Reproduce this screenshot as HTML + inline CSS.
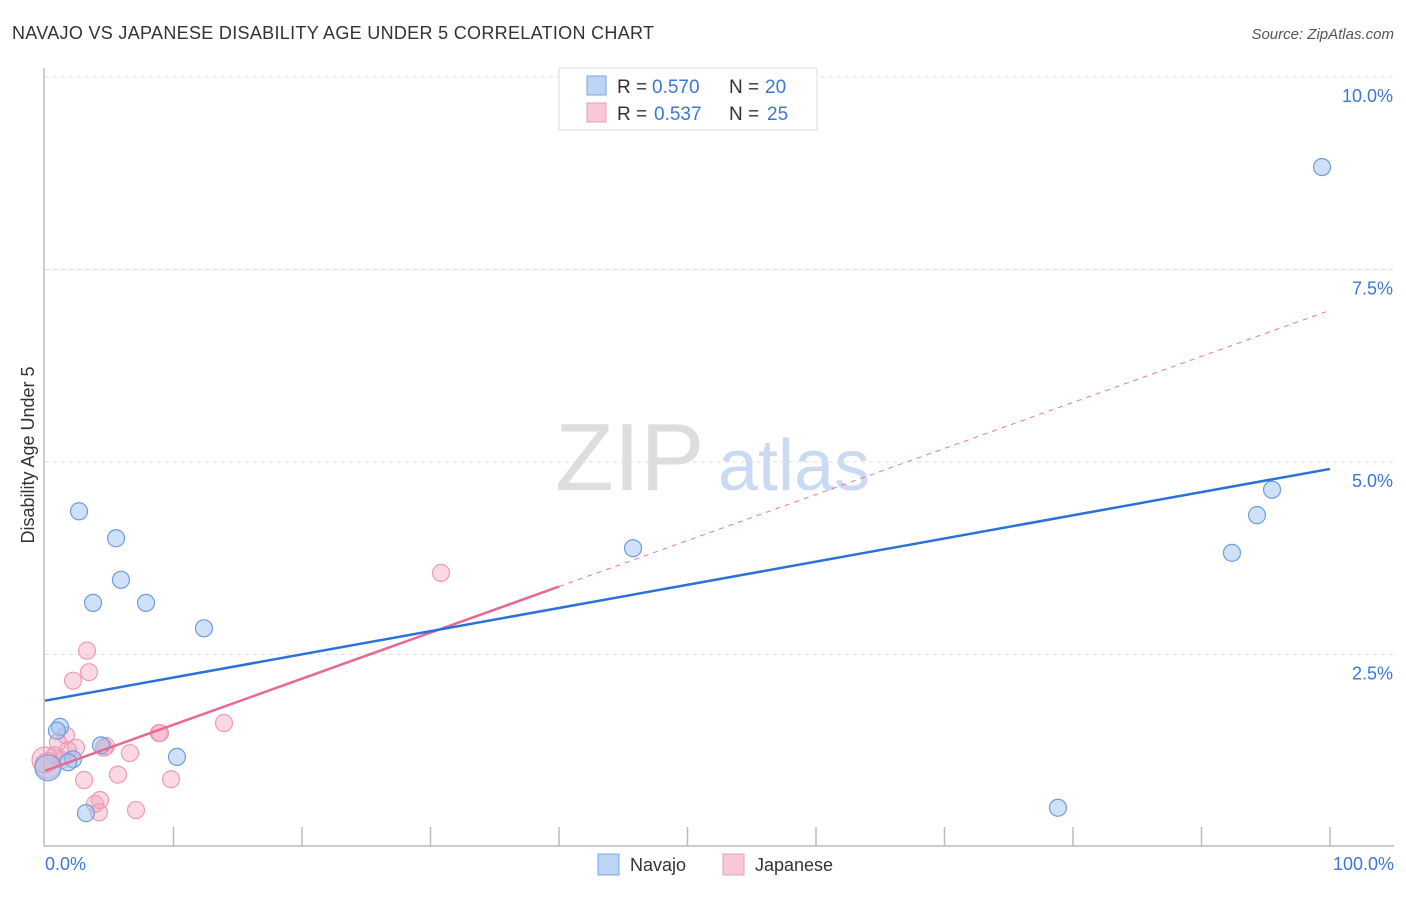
<!DOCTYPE html>
<html><head><meta charset="utf-8"><style>
body{margin:0;background:#fff;font-family:"Liberation Sans",sans-serif}
svg text{font-family:"Liberation Sans",sans-serif}
</style></head><body>
<svg id="c" width="1406" height="892">
<text x="12" y="39" font-size="18" fill="#333" textLength="642">NAVAJO VS JAPANESE DISABILITY AGE UNDER 5 CORRELATION CHART</text>
<text x="1394" y="39" font-size="15" fill="#555" font-style="italic" text-anchor="end">Source: ZipAtlas.com</text>
<text transform="translate(34,455) rotate(-90)" font-size="18" fill="#333" text-anchor="middle">Disability Age Under 5</text>
<text x="555" y="490" font-size="96" fill="#ddd" font-family="Liberation Serif">ZIP</text>
<text x="718" y="490" font-size="72" fill="#c9daf2">atlas</text>
<g id="grid"></g>
<line x1="44" y1="68" x2="44" y2="846" stroke="#bbb" stroke-width="1.5"/>
<line x1="44" y1="846" x2="1394" y2="846" stroke="#bbb" stroke-width="1.5"/>
<g id="ticks"></g>
<g id="pts"></g>
<g id="lines"></g>
<text x="45" y="870" font-size="18" fill="#3a78d6">0.0%</text>
<text x="1394" y="870" font-size="18" fill="#3a78d6" text-anchor="end">100.0%</text>
<g>
<rect x="559" y="68" width="258" height="62" fill="#fff" stroke="#ddd"/>
<rect x="587" y="76" width="19" height="19" fill="#bcd4f5" stroke="#7aa6e6"/>
<rect x="587" y="103" width="19" height="19" fill="#f9c8d7" stroke="#ee9bb4"/>
<text y="93" font-size="19" fill="#333"><tspan x="617">R =</tspan><tspan x="652" fill="#3a78d6">0.570</tspan><tspan x="729">N =</tspan><tspan x="765" fill="#3a78d6">20</tspan></text>
<text y="120" font-size="19" fill="#333"><tspan x="617">R =</tspan><tspan x="654" fill="#3a78d6">0.537</tspan><tspan x="729">N =</tspan><tspan x="767" fill="#3a78d6">25</tspan></text>
</g>
<g>
<rect x="598" y="854" width="21" height="21" fill="#bcd4f5" stroke="#7aa6e6"/>
<text x="630" y="871" font-size="18" fill="#333">Navajo</text>
<rect x="723" y="854" width="21" height="21" fill="#f9c8d7" stroke="#ee9bb4"/>
<text x="755" y="871" font-size="18" fill="#333">Japanese</text>
</g>
</svg>
<script>
const yTicks=[2.5,5,7.5,10];
const yTickLabels=["2.5%","5.0%","7.5%","10.0%"];
const xTicks=[10,20,30,40,50,60,70,80,90,100];
const navajoX=[2.65,5.53,5.91,3.74,7.86,12.37,45.76,99.38,95.49,94.32,92.37,78.83,1.17,0.93,4.36,2.18,1.79,10.27,3.19,0.23];
const navajoY=[4.36,4.01,3.47,3.17,3.17,2.84,3.88,8.83,4.64,4.31,3.82,0.51,1.56,1.51,1.32,1.14,1.10,1.17,0.44,1.03];
const japX=[30.82,3.27,3.42,2.18,13.93,1.63,8.95,4.75,1.79,6.61,0.78,0.23,5.68,3.04,9.81,4.28,3.89,4.2,7.08,1.01,2.41,4.59,1.32,8.87,0];
const japY=[3.56,2.55,2.27,2.16,1.61,1.45,1.48,1.31,1.26,1.22,1.19,1.06,0.94,0.87,0.88,0.61,0.56,0.45,0.48,1.36,1.29,1.29,1.13,1.48,1.13];
const navajoLine=[1.9,4.91];
const japLine=[0.99,6.97];
const japSolidEnd=40;
const sx=v=>45+v*12.85, sy=v=>847-v*77;
const NS="http://www.w3.org/2000/svg";
function mk(t,a,p){const e=document.createElementNS(NS,t);for(const k in a)e.setAttribute(k,a[k]);p.appendChild(e);return e;}
const grid=document.getElementById('grid');
yTicks.forEach((v,i)=>{
 const l=mk('line',{x1:45,x2:1394,y1:sy(v),y2:sy(v),stroke:'#ddd','stroke-dasharray':'4,4'},grid);
 
 
 const t=mk('text',{x:1393,y:sy(v)+25,'font-size':18,fill:'#3a78d6','text-anchor':'end'},grid);
 t.textContent=yTickLabels[i];
 
 
});
const tk=document.getElementById('ticks');
xTicks.forEach(v=>{
 const l=mk('line',{x1:sx(v),x2:sx(v),y1:827,y2:846,stroke:'#bbb','stroke-width':1.5},tk);
 
 
});
const pts=document.getElementById('pts');
japX.forEach((x,i)=>{
 const c=mk('circle',{cx:sx(x),cy:sy(japY[i]),r:x<0.5?13:8.5,fill:'rgba(244,160,185,0.4)',stroke:'#ee9bb4','stroke-width':1.2},pts);
 
 
});
navajoX.forEach((x,i)=>{
 const c=mk('circle',{cx:sx(x),cy:sy(navajoY[i]),r:x<0.5?13:8.5,fill:'rgba(160,195,240,0.5)',stroke:'#6d9de0','stroke-width':1.2},pts);
 
 
});
const ln=document.getElementById('lines');
const jy=x=>japLine[0]+(japLine[1]-japLine[0])*x/100;
let a=mk('line',{x1:sx(japSolidEnd),y1:sy(jy(japSolidEnd)),x2:sx(100),y2:sy(japLine[1]),stroke:'#e9779c','stroke-width':1,'stroke-dasharray':'5,5'},ln);


a=mk('line',{x1:sx(0),y1:sy(japLine[0]),x2:sx(japSolidEnd),y2:sy(jy(japSolidEnd)),stroke:'#e66a94','stroke-width':2.5},ln);


a=mk('line',{x1:sx(0),y1:sy(navajoLine[0]),x2:sx(100),y2:sy(navajoLine[1]),stroke:'#2a72d8','stroke-width':2.5},ln);


</script>
</body></html>
